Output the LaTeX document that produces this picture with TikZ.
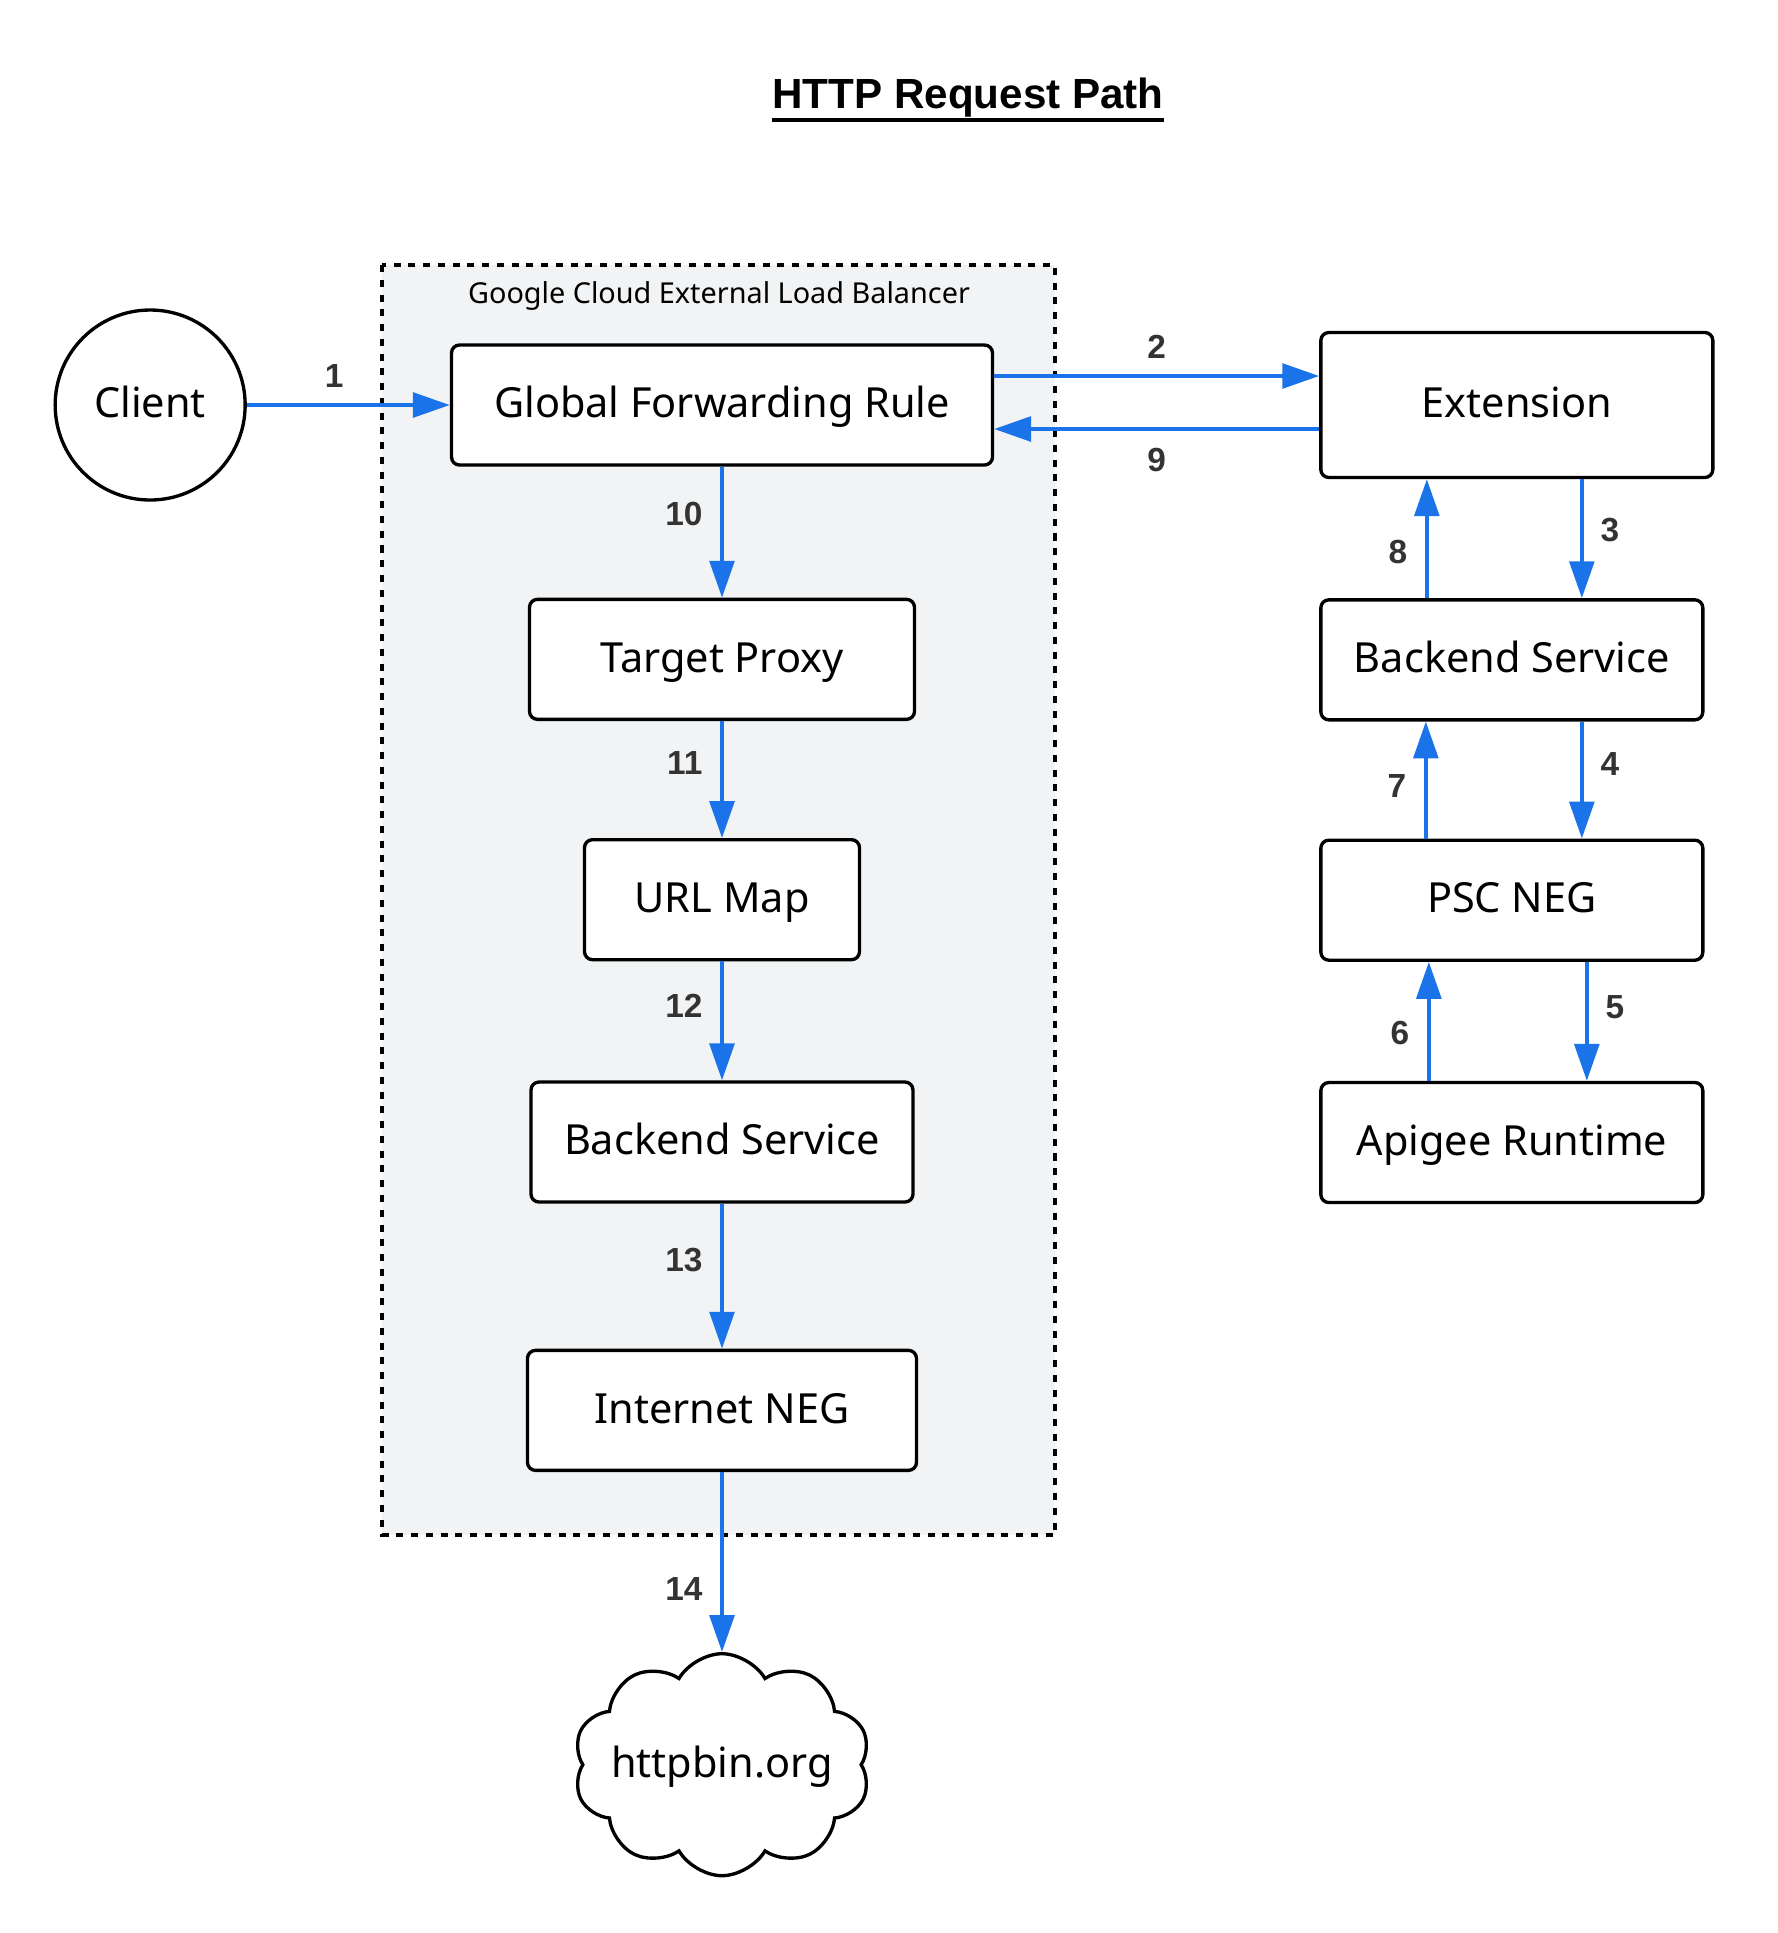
\documentclass[tikz,border=0pt]{standalone}
\usepackage{fontspec}
\setmainfont{Noto Sans}
\newfontfamily\boldsans{Liberation Sans}
\usetikzlibrary{positioning,arrows.meta,shapes.symbols}
\definecolor{flowblue}{HTML}{1A73E8}
\definecolor{lbgray}{HTML}{F1F3F4}
\definecolor{numgray}{HTML}{333333}
\tikzset{
  box/.style={draw,rounded corners=0.08cm,line width=0.95pt,fill=white,inner sep=0pt,
    minimum height=1.2cm,font=\fontsize{11.8}{13}\selectfont,text height=0.72em,text depth=0pt},
  flow/.style={color=flowblue,line width=1.15pt,-{Triangle[length=10.5pt,width=7pt]}},
  num/.style={font=\boldsans\bfseries\fontsize{9.5}{10}\selectfont,text=numgray,inner sep=0pt}
}

\begin{document}
\begin{tikzpicture}
                \useasboundingbox (0,0) rectangle (17.78,-19.33);
                % load balancer frame
                \draw[dash pattern=on 2pt off 2.2pt,line width=1pt,fill=lbgray] (3.82,-2.65) rectangle (10.55,-15.35);
                \node[font=\boldsans\bfseries\fontsize{12}{14}\selectfont,inner sep=0pt](title) at (9.68,-0.98){HTTP Request Path};
                \draw[line width=1.2pt] ([yshift=-0.11cm]title.base west) -- ([yshift=-0.11cm]title.base east);
                \node[font=\fontsize{8.2}{10}\selectfont,inner sep=0pt](lbl) at (7.19,-2.96){Google Cloud External Load Balancer};
                \node[box,minimum width=5.41cm](gfr) at (7.22,-4.05){Global Forwarding Rule};
                \node[circle,draw,line width=0.95pt,minimum size=1.9cm,inner sep=0pt,fill=white,
                      font=\fontsize{11.8}{13}\selectfont,text height=0.72em,text depth=0pt](client)[left =2.03cm of gfr]{Client};
                \node[box,minimum width=3.85cm](tp)[below =1.31cm of gfr]{Target Proxy};
                \node[box,minimum width=2.75cm](url)[below =1.17cm of tp]{URL Map};
                \node[box,minimum width=3.82cm](bsl)[below =1.19cm of url]{Backend Service};
                \node[box,minimum width=3.89cm](ineg)[below =1.45cm of bsl]{Internet NEG};
                \node[cloud,draw,line width=0.95pt,cloud puffs=10,cloud puff arc=120,cloud ignores aspect,
                      minimum width=2.97cm,minimum height=2.22cm,inner sep=0pt,
                      font=\fontsize{11.8}{13}\selectfont,text height=0.72em,text depth=0pt](web)[below =1.8cm of ineg]{\makebox[0pt]{httpbin.org}};
                \node[box,minimum width=3.92cm,minimum height=1.45cm](ext)[right =3.25cm of gfr]{Extension};
                \node[box,minimum width=3.82cm](bsr)[below =1.19cm of ext.south west,anchor=north west]{Backend Service};
                \node[box,minimum width=3.82cm](psc)[below =1.17cm of bsr]{PSC NEG};
                \node[box,minimum width=3.82cm](api)[below =1.19cm of psc]{Apigee Runtime};
                \path(client) edge[flow] node[num,above=4.5pt,pos=0.43]{1}(gfr)
                        ([yshift=0.29cm]gfr.east) edge[flow] node[num,above=4.5pt]{2}([yshift=0.29cm]gfr.east -| ext.west)
                        ([yshift=-0.24cm]ext.west) edge[flow] node[num,below=4.8pt]{9}([yshift=-0.24cm]ext.west -| gfr.east)
                        (gfr) edge[flow] node[num,left=5pt,pos=0.36]{10}(tp)
                        (tp) edge[flow] node[num,left=5pt,pos=0.36]{11}(url)
                        (url) edge[flow] node[num,left=5pt,pos=0.37]{12}(bsl)
                        (bsl) edge[flow] node[num,left=5pt,pos=0.39]{13}(ineg)
                        (ineg.south) edge[flow] node[num,left=5pt,pos=0.65]{14}(web.north)
                        ([xshift=0.65cm]ext.south) edge[flow] node[num,right=4.8pt,pos=0.43]{3}([xshift=0.65cm]ext.south |- bsr.north)
                        ([xshift=-0.85cm]bsr.north) edge[flow] node[num,left=5pt,pos=0.39]{8}([xshift=-0.85cm]bsr.north |- ext.south)
                        ([xshift=0.7cm]bsr.south) edge[flow] node[num,right=4.8pt,pos=0.36]{4}([xshift=0.7cm]bsr.south |- psc.north)
                        ([xshift=-0.86cm]psc.north) edge[flow] node[num,left=5pt,pos=0.45]{7}([xshift=-0.86cm]psc.north |- bsr.south)
                        ([xshift=0.75cm]psc.south) edge[flow] node[num,right=4.8pt,pos=0.38]{5}([xshift=0.75cm]psc.south |- api.north)
                        ([xshift=-0.83cm]api.north) edge[flow] node[num,left=5pt,pos=0.40]{6}([xshift=-0.83cm]api.north |- psc.south);
            \end{tikzpicture}
\end{document}
